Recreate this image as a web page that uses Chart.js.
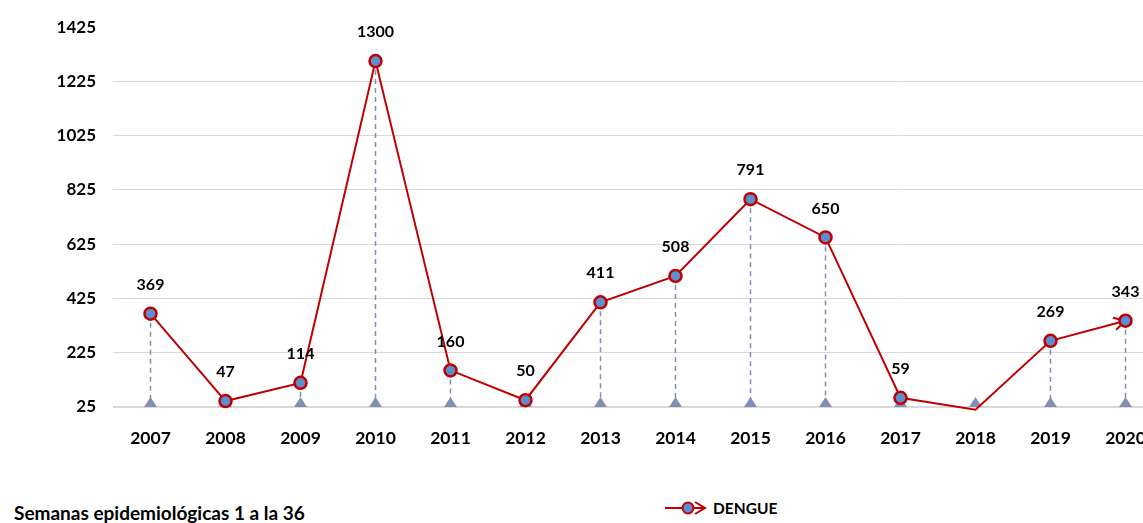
<!DOCTYPE html>
<html>
<head>
<meta charset="utf-8">
<script src="https://cdn.jsdelivr.net/npm/chart.js@4/dist/chart.umd.min.js"></script>
<style>
  html, body { margin: 0; padding: 0; background: #fff; overflow: hidden; width: 1143px; height: 523px; }
  #wrap { position: absolute; left: 0; top: 0; width: 1175px; height: 470px; }
  #note { position: absolute; left: 14px; top: 501px; font: bold 19px Lato, sans-serif; color: #000; white-space: nowrap; }
  #legend { position: absolute; left: 664px; top: 498px; font: bold 15.5px Lato, sans-serif; color: #000; display: flex; align-items: center; white-space: nowrap; }
  #legend svg { margin-right: 5px; }
</style>
</head>
<body>
<div id="wrap"><canvas id="c"></canvas></div>
<div id="note">Semanas epidemiológicas 1 a la 36</div>
<div id="legend">
  <svg width="44" height="20" viewBox="0 0 44 20">
    <line x1="1" y1="10" x2="40" y2="10" stroke="#c00000" stroke-width="2"/>
    <polyline points="31,4 41,10 31,16" fill="none" stroke="#c00000" stroke-width="2"/>
    <circle cx="24" cy="10" r="5.5" fill="#5b8fcf" stroke="#c00000" stroke-width="2"/>
  </svg>
  <span>DENGUE</span>
</div>
<script>
const categories = ['2007','2008','2009','2010','2011','2012','2013','2014','2015','2016','2017','2018','2019','2020'];
const dengue = [369, 47, 114, 1300, 160, 50, 411, 508, 791, 650, 59, 15, 269, 343];
const yMin = 25, yMax = 1425, yStep = 200;

const RED = '#c00000';
const BLUE = '#5b8fcf';
const DROP = '#7f90b3';

const dropPlugin = {
  id: 'drops',
  beforeDatasetsDraw(chart) {
    const ctx = chart.ctx, x = chart.scales.x, y = chart.scales.y;
    const base = y.getPixelForValue(yMin);
    ctx.save();
    ctx.strokeStyle = DROP; ctx.lineWidth = 1.5; ctx.setLineDash([5, 4]);
    dengue.forEach((v, i) => {
      if (v <= yMin) return;
      const px = x.getPixelForValue(i);
      ctx.beginPath(); ctx.moveTo(px, y.getPixelForValue(v)); ctx.lineTo(px, base); ctx.stroke();
    });
    ctx.setLineDash([]);
    ctx.fillStyle = DROP;
    dengue.forEach((v, i) => {
      const px = x.getPixelForValue(i);
      ctx.beginPath(); ctx.moveTo(px - 6.5, base); ctx.lineTo(px + 6.5, base); ctx.lineTo(px, base - 10); ctx.closePath(); ctx.fill();
    });
    const n = dengue.length - 1;
    const x1 = x.getPixelForValue(n - 1), y1 = y.getPixelForValue(dengue[n - 1]);
    const x2 = x.getPixelForValue(n), y2 = y.getPixelForValue(dengue[n]);
    const a = Math.atan2(y2 - y1, x2 - x1);
    const L = 13, w = 0.5;
    ctx.strokeStyle = RED; ctx.lineWidth = 2;
    ctx.beginPath();
    ctx.moveTo(x2 - L * Math.cos(a - w), y2 - L * Math.sin(a - w));
    ctx.lineTo(x2, y2);
    ctx.lineTo(x2 - L * Math.cos(a + w), y2 - L * Math.sin(a + w));
    ctx.stroke();
    ctx.restore();
  },
  afterDatasetsDraw(chart) {
    const ctx = chart.ctx, x = chart.scales.x, y = chart.scales.y;
    ctx.save();
    ctx.font = 'bold 16px Lato, sans-serif';
    ctx.fillStyle = '#000'; ctx.textAlign = 'center'; ctx.textBaseline = 'middle';
    dengue.forEach((v, i) => {
      if (v < yMin) return;
      ctx.fillText(String(v), x.getPixelForValue(i), y.getPixelForValue(v) - 29);
    });
    ctx.restore();
  }
};

new Chart(document.getElementById('c'), {
  type: 'line',
  data: {
    labels: categories,
    datasets: [{
      label: 'DENGUE',
      data: dengue,
      borderColor: RED,
      borderWidth: 2,
      backgroundColor: BLUE,
      pointBackgroundColor: BLUE,
      pointBorderColor: RED,
      pointBorderWidth: 2.5,
      pointRadius: (c) => (c.raw < yMin ? 0 : 6),
      tension: 0,
      clip: 4
    }]
  },
  options: {
    responsive: true,
    maintainAspectRatio: false,
    animation: false,
    layout: { padding: { top: 26, right: 12, left: 0, bottom: 0 } },
    plugins: { legend: { display: false }, tooltip: { enabled: false } },
    scales: {
      x: {
        offset: true,
        grid: { display: false, drawTicks: false },
        border: { display: false },
        ticks: { color: '#000', font: { family: 'Lato', weight: 'bold', size: 17.5 }, padding: 21, maxRotation: 0 }
      },
      y: {
        min: yMin, max: yMax,
        afterBuildTicks(s) { s.ticks = []; for (let v = yMin; v <= yMax; v += yStep) s.ticks.push({ value: v }); },
        afterFit(s) { s.width = 113; },
        grid: {
          drawTicks: false,
          color: (c) => (c.tick && c.tick.value === yMax ? 'rgba(0,0,0,0)' : '#d9d9d9'),
          lineWidth: (c) => (c.tick && c.tick.value === yMin ? 2 : 1)
        },
        border: { display: false },
        ticks: { color: '#000', font: { family: 'Lato', weight: 'bold', size: 17 }, padding: 17, callback: (v) => String(v) }
      }
    }
  },
  plugins: [dropPlugin]
});
</script>
</body>
</html>
